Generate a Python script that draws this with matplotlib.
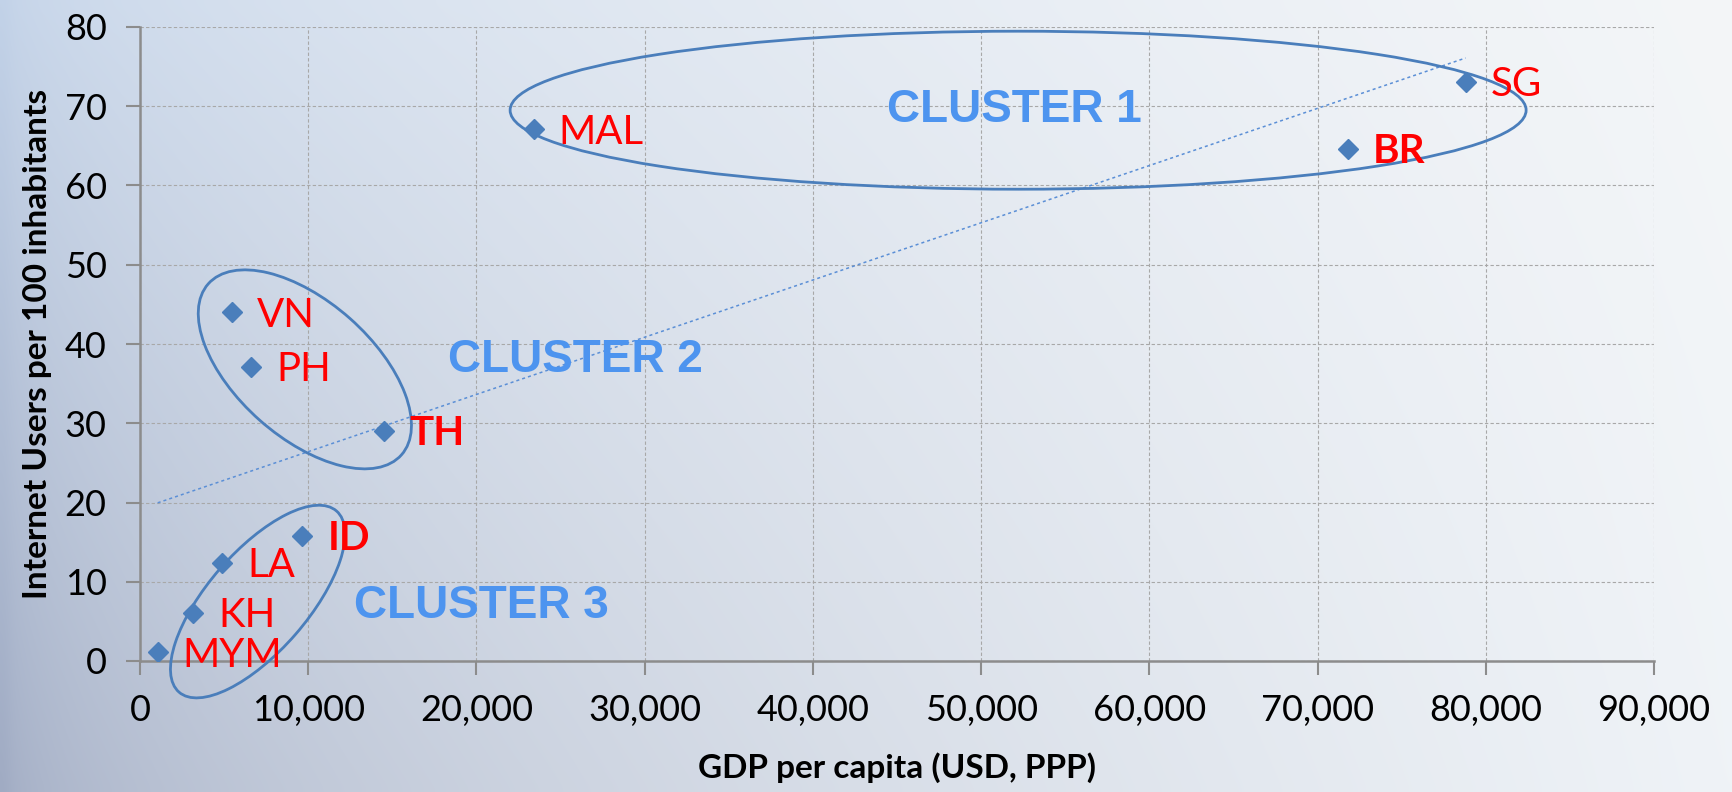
import numpy as np
import matplotlib
matplotlib.use('Agg')
import matplotlib.pyplot as plt
from matplotlib.patches import Ellipse
from matplotlib.ticker import FuncFormatter, MultipleLocator
from matplotlib.transforms import IdentityTransform

# data
countries = ['MYM', 'KH', 'LA', 'ID', 'VN', 'PH', 'TH', 'MAL', 'BR', 'SG']
gdp = [1050, 3150, 4900, 9650, 5450, 6600, 14500, 23400, 71800, 78800]
users = [1.1, 6.1, 12.4, 15.8, 44.0, 37.1, 29.0, 67.1, 64.6, 73.1]
bold_labels = ['TH', 'BR', 'ID']

cluster_names = ['CLUSTER 1', 'CLUSTER 2', 'CLUSTER 3']
cluster_text_x = [52000, 25900, 20300]
cluster_text_y = [69.5, 38.0, 6.9]
# ellipse centres (data) and semi axes in pixels + tilt
ring_x = [52200, 9800, 7000]
ring_y = [69.5, 36.8, 7.5]
ring_a = [508, 129, 120]
ring_b = [79, 68, 50]
ring_angle = [0, -41.5, 49]

W, H = 1733, 792
fig = plt.figure(figsize=(W / 100, H / 100), dpi=100)

# background gradient
bg = fig.add_axes([0, 0, 1, 1], zorder=-5)
bg.axis('off')
tl = np.array([0xc2, 0xd2, 0xe8]) / 255
bl = np.array([0xa0, 0xab, 0xc3]) / 255
tr = np.array([0xf4, 0xf6, 0xf8]) / 255
br = np.array([0xef, 0xf3, 0xf7]) / 255
gx = np.linspace(0, 1, 200) ** 0.5
gy = np.linspace(0, 1, 100)[:, None, None]
top = tl + (tr - tl) * gx[:, None]
bot = bl + (br - bl) * gx[:, None]
grad = top[None, :, :] * (1 - gy) + bot[None, :, :] * gy
bg.imshow(grad, aspect='auto', extent=[0, 1, 0, 1], interpolation='bicubic')

ax = fig.add_axes([140 / W, 1 - 661 / H, (1654 - 140) / W, (661 - 27) / H])
ax.set_facecolor('none')
ax.set_xlim(0, 90000)
ax.set_ylim(0, 80)

lab_font = ['Lato', 'DejaVu Sans']
ax.xaxis.set_major_locator(MultipleLocator(10000))
ax.yaxis.set_major_locator(MultipleLocator(10))
ax.xaxis.set_major_formatter(FuncFormatter(lambda v, p: f'{int(v):,}'))
ax.tick_params(axis='both', length=10, width=1.5, color='#8c8c8c', labelsize=26, pad=14)
for t in ax.get_xticklabels() + ax.get_yticklabels():
    t.set_family(lab_font)
ax.grid(True, color='#a8a8a8', linestyle=(0, (3, 2)), linewidth=0.8)
for side in ['top', 'right']:
    ax.spines[side].set_visible(False)
for side in ['left', 'bottom']:
    ax.spines[side].set_color('#8c8c8c')
    ax.spines[side].set_linewidth(1.8)

ax.set_xlabel('GDP per capita (USD, PPP)', fontsize=24, fontweight='bold', family=lab_font, labelpad=18)
ax.set_ylabel('Internet Users per 100 inhabitants', fontsize=24, fontweight='bold', family=lab_font, labelpad=9)

# linear trend line
k, c = np.polyfit(gdp, users, 1)
tx = np.array([min(gdp), max(gdp)])
ax.plot(tx, k * tx + c, linestyle=(0, (2, 2)), color='#5b8fd6', linewidth=1.1, zorder=2)

ax.plot(gdp, users, linestyle='none', marker='D', markersize=10, color='#4a7ebb', zorder=4)

for name, x, y in zip(countries, gdp, users):
    ax.annotate(name, (x, y), xytext=(18, -2), textcoords='offset points', ha='left', va='center',
                color='#ff0000', fontsize=29, family=lab_font,
                fontweight='bold' if name in bold_labels else 'normal', zorder=5)

for name, x, y in zip(cluster_names, cluster_text_x, cluster_text_y):
    ax.text(x, y, name, ha='center', va='center', color='#4d94ef', fontsize=33,
            fontweight='bold', family='Liberation Sans', zorder=5)

for x, y, a, b, ang in zip(ring_x, ring_y, ring_a, ring_b, ring_angle):
    px, py = ax.transData.transform((x, y))
    e = Ellipse((px, py), 2 * a, 2 * b, angle=ang, transform=IdentityTransform(),
                fill=False, edgecolor='#4a7ebb', linewidth=2, zorder=3, clip_on=False)
    ax.add_artist(e)

fig.savefig('out.png', dpi=100)
